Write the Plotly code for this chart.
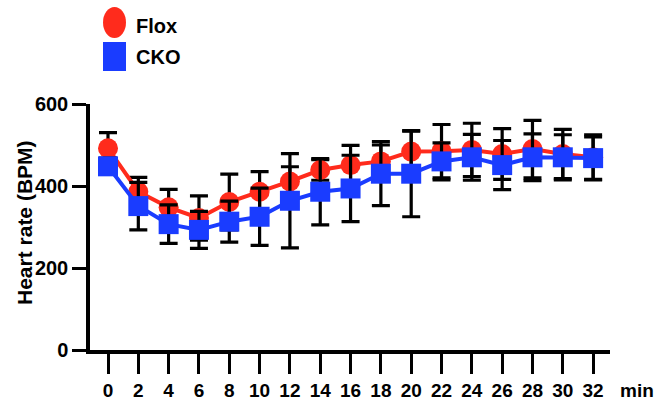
import plotly.graph_objects as go

# ---- data ----
minutes = [0, 2, 4, 6, 8, 10, 12, 14, 16, 18, 20, 22, 24, 26, 28, 30, 32]
flox_mean = [492, 386, 348, 322, 361, 386, 411, 439, 451, 460, 484, 485, 488, 478, 490, 478, 470]
flox_err = [38, 35, 44, 54, 68, 49, 36, 25, 48, 40, 50, 65, 65, 62, 70, 60, 55]
cko_mean = [448, 351, 307, 293, 313, 325, 364, 386, 394, 430, 430, 460, 470, 451, 470, 470, 468]
cko_err = [20, 58, 47, 45, 50, 70, 115, 81, 81, 78, 105, 45, 56, 60, 57, 55, 52]
series_names = ["Flox", "CKO"]
series_colors = ["#FF2B1C", "#1A3CFF"]
series_symbols = ["circle", "square"]
x_ticks = list(range(0, 33, 2))
y_ticks = [0, 200, 400, 600]

FONT = "Liberation Sans, Arial, sans-serif"
FS = 19

W, H = 658, 407
ML, MR, MT, MB = 90, 48, 104, 57
PW, PH = W - ML - MR, H - MT - MB


def px_to_paper(px, py):
    return (px - ML) / PW, (H - MB - py) / PH


fig = go.Figure()
for name, mean, err, color, sym in zip(series_names, [flox_mean, cko_mean], [flox_err, cko_err],
                                       series_colors, series_symbols):
    fig.add_trace(go.Scatter(
        x=minutes, y=mean, name=name, mode="lines+markers",
        line=dict(color=color, width=4),
        marker=dict(symbol=sym, size=20, color=color, line=dict(width=0)),
        error_y=dict(type="data", array=err, visible=True, color="black", thickness=3.2, width=9),
        showlegend=False, cliponaxis=False,
    ))

# custom legend (larger symbols than Plotly's legend allows)
legend_boxes = [(103, 7, 126, 38), (103, 42, 126, 71)]
legend_text_y = [26, 57]
shapes = []
annotations = []
for name, color, sym, box, ty in zip(series_names, series_colors, series_symbols, legend_boxes, legend_text_y):
    x0, y1 = px_to_paper(box[0], box[1])
    x1, y0 = px_to_paper(box[2], box[3])
    shapes.append(dict(type="circle" if sym == "circle" else "rect", xref="paper", yref="paper",
                       x0=x0, x1=x1, y0=y0, y1=y1, fillcolor=color, line=dict(width=0)))
    tx, typ = px_to_paper(134, ty)
    annotations.append(dict(text=name, xref="paper", yref="paper", x=tx, y=typ, xanchor="left",
                            yanchor="middle", showarrow=False,
                            font=dict(family=FONT, size=FS + 1, color="black", weight="bold")))

mx, my = px_to_paper(618, 390)
annotations.append(dict(text="min", xref="paper", yref="paper", x=mx, y=my, xanchor="left",
                        yanchor="middle", showarrow=False,
                        font=dict(family=FONT, size=FS, color="black", weight="bold")))

tx, ty = px_to_paper(24, 223)
annotations.append(dict(text="Heart rate (BPM)", xref="paper", yref="paper", x=tx, y=ty,
                        xanchor="center", yanchor="middle", textangle=-90, showarrow=False,
                        font=dict(family=FONT, size=21, color="black", weight="bold")))

px_per_min = 15.16
x0_px = 108
fig.update_layout(
    width=W, height=H,
    margin=dict(l=ML, r=MR, t=MT, b=MB, autoexpand=False),
    paper_bgcolor="white", plot_bgcolor="white",
    shapes=shapes, annotations=annotations,
    xaxis=dict(
        range=[-(x0_px - ML) / px_per_min, (ML + PW - x0_px) / px_per_min],
        tickvals=x_ticks, ticktext=[str(v) for v in x_ticks],
        showline=True, linecolor="black", linewidth=3.5,
        ticks="outside", ticklen=20, tickwidth=3.2, tickcolor="black",
        showgrid=False, zeroline=False, automargin=False,
        tickfont=dict(family=FONT, size=FS, color="black", weight="bold"),
    ),
    yaxis=dict(
        range=[0, 600], tickvals=y_ticks,
        showline=True, linecolor="black", linewidth=3.5,
        ticks="outside", ticklen=14, tickwidth=3.2, tickcolor="black",
        showgrid=False, zeroline=False, automargin=False,
        tickfont=dict(family=FONT, size=FS + 1, color="black", weight="bold"),
    ),
)

fig.write_html("out.html", config={"displayModeBar": False},
               post_script="document.body.style.margin='0';document.body.style.overflow='hidden';")
